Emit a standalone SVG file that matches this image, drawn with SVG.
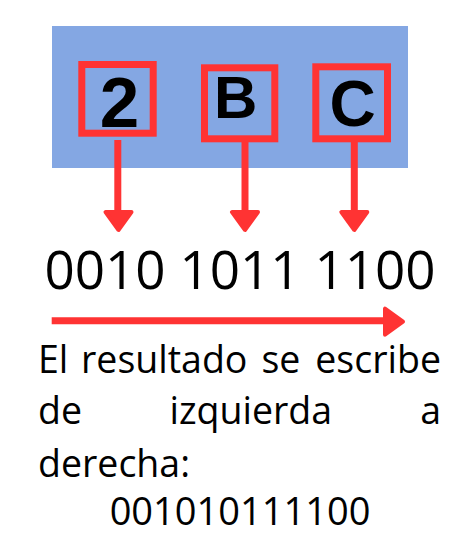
<svg xmlns="http://www.w3.org/2000/svg" width="453" height="547" viewBox="0 0 453 547">
  <style>
    .box { fill: none; stroke: #ff3333; stroke-width: 7; }
    .hex { font-family: "Liberation Sans", Arial, sans-serif; font-weight: bold; fill: #000; text-anchor: middle; }
    .stem { stroke: #ff3333; stroke-width: 7; fill: none; }
    .head { fill: #ff3333; stroke: #ff3333; stroke-width: 4; stroke-linejoin: round; }
    .txt { font-family: "Open Sans", "Noto Sans", sans-serif; fill: #000; }
  </style>
  <rect width="453" height="547" fill="#ffffff"/>
  <g id="panel">
    <rect x="52" y="26" width="356" height="142" fill="#84a7e3"/>
  </g>
  <g id="node-2">
    <rect class="box" x="81.8" y="64.5" width="71.4" height="68.7"/>
    <text class="hex" x="119.5" y="126.7" font-size="71">2</text>
  </g>
  <g id="node-B">
    <rect class="box" x="204.5" y="67.8" width="70.3" height="71"/>
    <text class="hex" x="235.7" y="118.3" font-size="60">B</text>
  </g>
  <g id="node-C">
    <rect class="box" x="315.8" y="66.8" width="71.7" height="72"/>
    <text class="hex" x="352.5" y="126.3" font-size="64">C</text>
  </g>
  <g id="connectors">
    <line class="stem" x1="117.8" y1="140" x2="117.8" y2="214"/>
    <polygon class="head" points="105.5,212 131.5,212 118.5,230"/>
    <line class="stem" x1="245" y1="142" x2="245" y2="214"/>
    <polygon class="head" points="232,212 258,212 245,230"/>
    <line class="stem" x1="354.3" y1="142" x2="354.3" y2="214"/>
    <polygon class="head" points="341.3,212 367.3,212 354.3,230"/>
    <line class="stem" x1="51.7" y1="320.7" x2="387" y2="320.7"/>
    <polygon class="head" points="385,308.7 385,334.7 403,321.7"/>
  </g>
  <g id="binary">
    <text class="txt" x="240" y="289.3" font-size="53" text-anchor="middle">0010 1011 1100</text>
  </g>
  <g id="explanation" class="txt" font-size="37.5">
    <text x="38" y="373.3">El</text>
    <text x="81" y="373.3">resultado</text>
    <text x="261.5" y="373.3">se</text>
    <text x="441" y="373.3" text-anchor="end">escribe</text>
    <text x="38" y="424.3">de</text>
    <text x="169.5" y="424.3">izquierda</text>
    <text x="441" y="424.3" text-anchor="end">a</text>
    <text x="38" y="476.7">derecha:</text>
    <text x="240" y="525" text-anchor="middle" font-size="38">001010111100</text>
  </g>
</svg>
